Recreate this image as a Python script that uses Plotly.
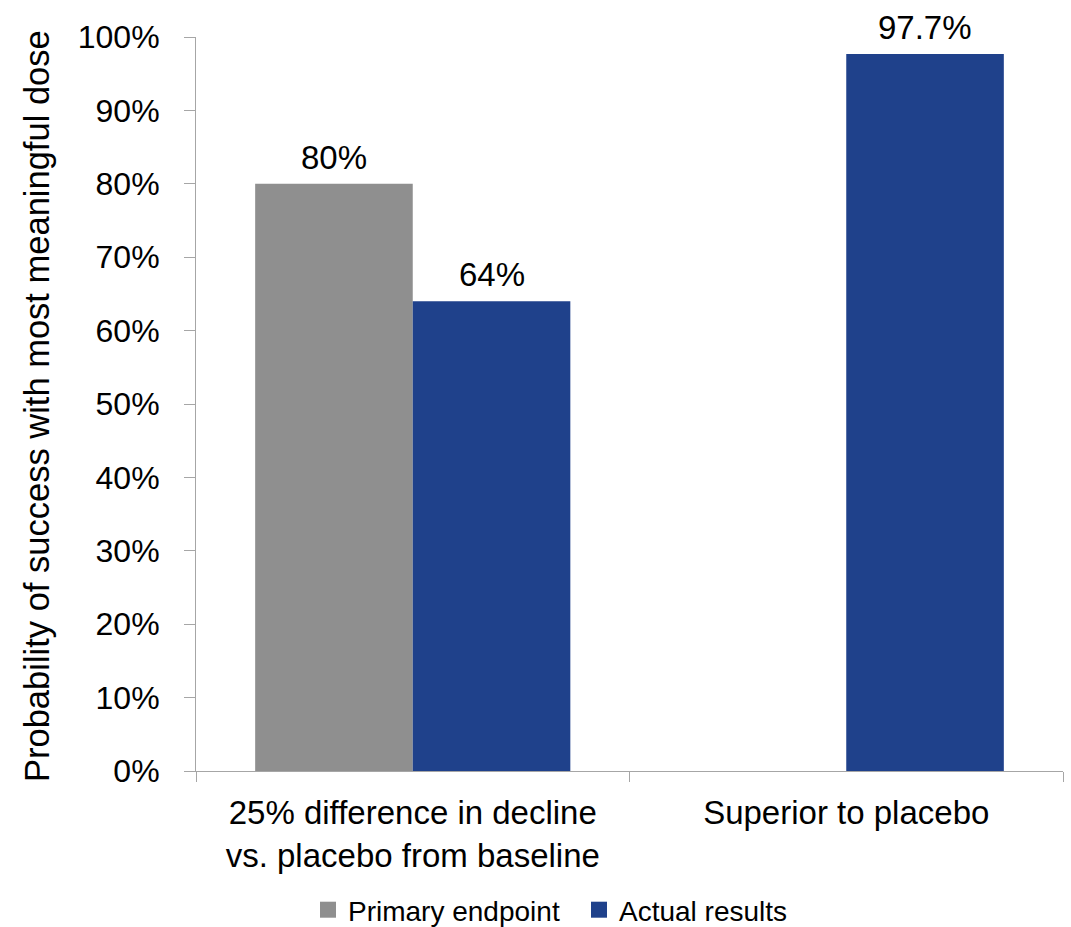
import plotly.graph_objects as go

categories = ["25% difference in decline<br>vs. placebo from baseline", "Superior to placebo"]
primary_endpoint = [80, None]
actual_results = [64, 97.7]
primary_labels = ["80%", ""]
actual_labels = ["64%", "97.7%"]
y_ticks = list(range(0, 101, 10))
y_ticktext = [f"{v}%" for v in y_ticks]

FONT = "Liberation Sans, Arial, sans-serif"
AXIS_GRAY = "#A6A6A6"
GRAY = "#8F8F8F"
BLUE = "#1F418B"
BARGAP = 0.273

L, R, T, B = 196, 8, 37, 156
W, H = 1071, 927
plot_w = W - L - R
plot_h = H - T - B

fig = go.Figure()
fig.add_trace(go.Bar(
    name="Primary endpoint", x=categories, y=primary_endpoint,
    marker=dict(color=GRAY, line=dict(width=0)), showlegend=False,
))
fig.add_trace(go.Bar(
    name="Actual results", x=categories, y=actual_results,
    marker=dict(color=BLUE, line=dict(width=0)), showlegend=False,
))

# legend entries with larger square swatches
for name, color in [("Primary endpoint", GRAY), ("Actual results", BLUE)]:
    fig.add_trace(go.Scatter(
        name=name, x=[categories[0]], y=[None], mode="markers",
        marker=dict(symbol="square", size=16, color=color, line=dict(width=0)),
        showlegend=True, hoverinfo="skip",
    ))

# value labels above each bar
half = (1 - BARGAP) / 4
annotations = []
for offset, values, labels in [(-half, primary_endpoint, primary_labels),
                               (half, actual_results, actual_labels)]:
    for i, (v, lab) in enumerate(zip(values, labels)):
        if v is None or not lab:
            continue
        annotations.append(dict(
            x=i + offset, y=v, xref="x", yref="y", text=lab,
            showarrow=False, xanchor="center", yanchor="bottom", yshift=6,
            font=dict(size=33, family=FONT, color="black"),
        ))

annotations.append(dict(
    text="Probability of success with most meaningful dose",
    xref="paper", yref="paper",
    x=(37 - L) / plot_w, y=(H - B - 406) / plot_h,
    xanchor="center", yanchor="middle", textangle=-90,
    showarrow=False, font=dict(size=34.5, family=FONT, color="black"),
))

fig.update_layout(
    width=W, height=H,
    margin=dict(l=L, r=R, t=T, b=B, autoexpand=False),
    paper_bgcolor="white", plot_bgcolor="white",
    barmode="group", bargap=BARGAP, bargroupgap=0,
    font=dict(family=FONT, size=32, color="black"),
    showlegend=True,
    legend=dict(
        orientation="h", x=(308 - L) / plot_w, xanchor="left",
        y=-(910 - (H - B)) / plot_h, yanchor="middle",
        font=dict(size=28, family=FONT, color="black"),
        traceorder="normal", entrywidth=226,
    ),
    xaxis=dict(
        showline=True, linecolor=AXIS_GRAY, linewidth=1,
        ticks="outside", tickson="boundaries", ticklen=10, tickcolor=AXIS_GRAY,
        ticklabelstandoff=12,
        tickfont=dict(size=33, family=FONT, color="black"),
        showgrid=False, zeroline=False,
    ),
    yaxis=dict(
        range=[0, 100], tickvals=y_ticks, ticktext=y_ticktext,
        showline=True, linecolor=AXIS_GRAY, linewidth=1,
        ticks="outside", ticklen=11, tickcolor=AXIS_GRAY, ticklabelstandoff=18,
        tickfont=dict(size=32, family=FONT, color="black"),
        showgrid=False, zeroline=False,
    ),
    annotations=annotations,
)

fig.write_html("out.html")
